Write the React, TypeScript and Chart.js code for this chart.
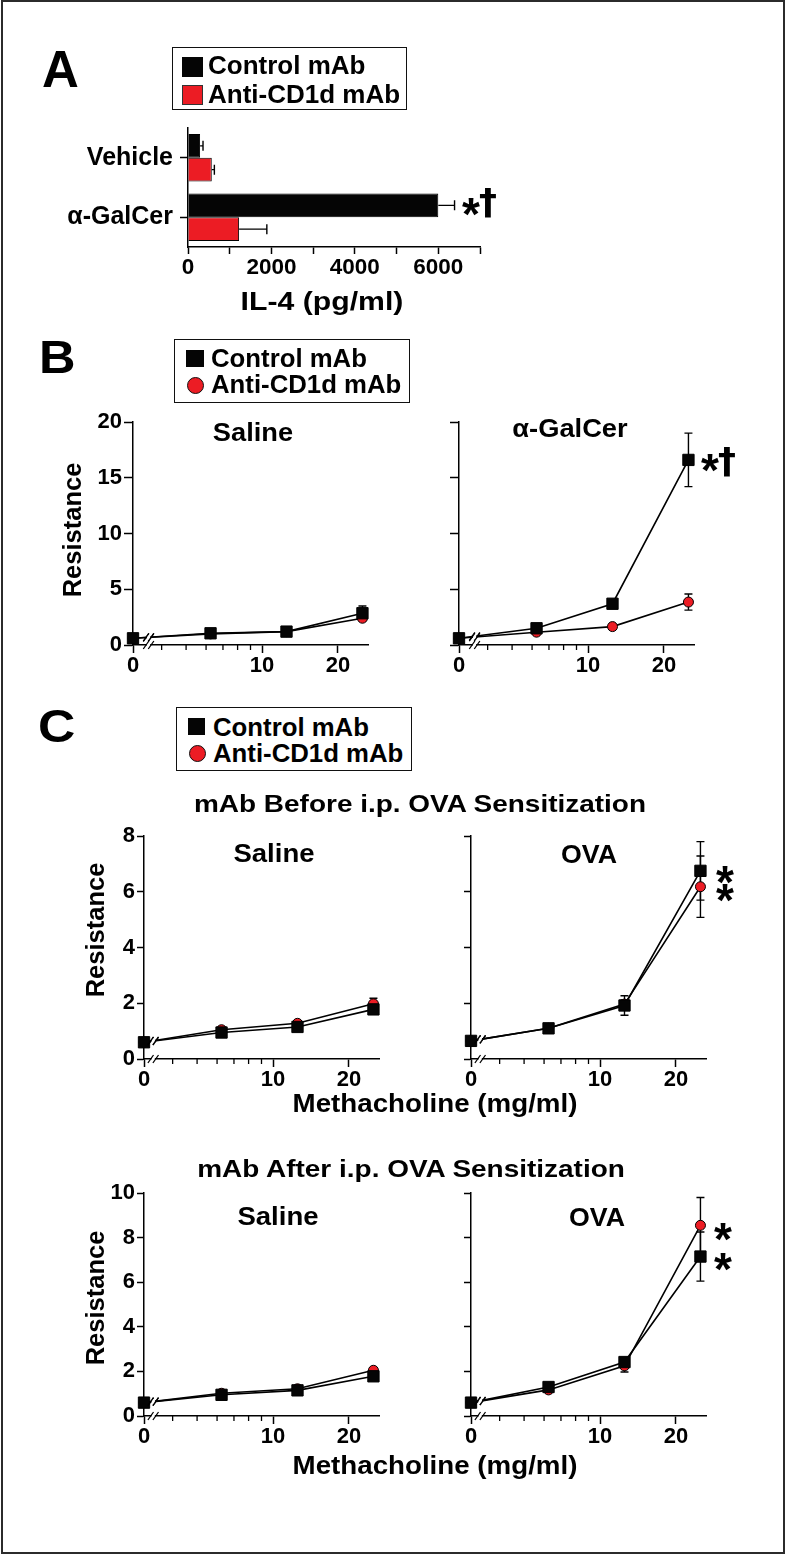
import React, { useEffect, useRef } from 'react';
import { Chart, registerables } from 'chart.js';

Chart.register(...registerables);

const FONT = '"Liberation Sans", Arial, Helvetica, sans-serif';
const SYMBOL_FONT = '"DejaVu Sans", "Liberation Sans", sans-serif';
const INK = '#000000';
const RED = '#ec1c24';

// ---------------- Panel A : IL-4 (pg/ml) ----------------
const A_CATEGORIES = ['Vehicle', 'α-GalCer'];
const A_CONTROL = [290, 6000];
const A_CONTROL_ERR = [70, 390];
const A_ANTI = [570, 1225];
const A_ANTI_ERR = [62, 665];
const A_X_MAX = 7000;
const A_X_STEP = 1000;
const A_X_LABELLED = [0, 2000, 4000, 6000];

// ---------------- Methacholine doses (log axis, zero dose shown at the axis break) ----------------
const DOSES = [0, 6.25, 12.5, 25];
const X_ZERO_AT = 3.08;
const X_MAX = 26.3;
const X_LABELLED = [0, 10, 20];
const X_MINOR = [4, 5, 6, 7, 8, 9];

// ---------------- Panel B ----------------
const B_Y_MAX = 20;
const B_Y_STEP = 5;
const B_SAL_CONTROL = [0.6, 1.05, 1.2, 2.85];
const B_SAL_CONTROL_ERR = [0.1, 0.12, 0.12, 0.65];
const B_SAL_ANTI = [0.6, 1.0, 1.2, 2.4];
const B_SAL_ANTI_ERR = [0.1, 0.1, 0.1, 0.2];
const B_GAL_CONTROL = [0.6, 1.5, 3.7, 16.6];
const B_GAL_CONTROL_ERR = [0.1, 0.2, 0.3, 2.4];
const B_GAL_ANTI = [0.6, 1.15, 1.65, 3.85];
const B_GAL_ANTI_ERR = [0.1, 0.1, 0.15, 0.72];

// ---------------- Panel C : mAb before sensitization ----------------
const CB_Y_MAX = 8;
const CB_Y_STEP = 2;
const CB_SAL_CONTROL = [0.6, 0.95, 1.15, 1.78];
const CB_SAL_CONTROL_ERR = [0.05, 0.08, 0.08, 0.12];
const CB_SAL_ANTI = [0.6, 1.05, 1.28, 1.98];
const CB_SAL_ANTI_ERR = [0.05, 0.08, 0.08, 0.2];
const CB_OVA_CONTROL = [0.65, 1.1, 1.92, 6.75];
const CB_OVA_CONTROL_ERR = [0.08, 0.1, 0.35, 1.05];
const CB_OVA_ANTI = [0.65, 1.1, 1.97, 6.18];
const CB_OVA_ANTI_ERR = [0.08, 0.1, 0.15, 1.1];

// ---------------- Panel C : mAb after sensitization ----------------
const CA_Y_MAX = 10;
const CA_Y_STEP = 2;
const CA_SAL_CONTROL = [0.6, 0.95, 1.15, 1.78];
const CA_SAL_CONTROL_ERR = [0.05, 0.08, 0.08, 0.12];
const CA_SAL_ANTI = [0.6, 1.02, 1.22, 2.05];
const CA_SAL_ANTI_ERR = [0.05, 0.08, 0.08, 0.1];
const CA_OVA_CONTROL = [0.6, 1.3, 2.42, 7.15];
const CA_OVA_CONTROL_ERR = [0.08, 0.1, 0.15, 1.1];
const CA_OVA_ANTI = [0.6, 1.17, 2.25, 8.55];
const CA_OVA_ANTI_ERR = [0.08, 0.1, 0.28, 1.25];

// ---------------- plugins ----------------
const errorBarPlugin = {
  id: 'errorBars',
  beforeDatasetsDraw(chart: any) {
    if (chart.options.indexAxis === 'y') return;
    drawErrors(chart);
  },
  afterDatasetsDraw(chart: any) {
    if (chart.options.indexAxis !== 'y') return;
    drawErrors(chart);
  },
};

function drawErrors(chart: any) {
  const { ctx } = chart;
  const horizontal = chart.options.indexAxis === 'y';
  chart.data.datasets.forEach((ds: any, i: number) => {
    const errs = ds.errors;
    if (!errs) return;
    const meta = chart.getDatasetMeta(i);
    ctx.save();
    ctx.strokeStyle = INK;
    ctx.lineWidth = 1.4;
    meta.data.forEach((el: any, j: number) => {
      const e = errs[j];
      if (!e) return;
      const raw = ds.data[j];
      if (horizontal) {
        const xs = chart.scales.x;
        const v = typeof raw === 'number' ? raw : raw.x;
        const x0 = xs.getPixelForValue(v);
        const x1 = xs.getPixelForValue(v + e);
        const y = el.y;
        ctx.beginPath();
        ctx.moveTo(x0, y);
        ctx.lineTo(x1, y);
        ctx.moveTo(x1, y - 5);
        ctx.lineTo(x1, y + 5);
        ctx.stroke();
      } else {
        const ys = chart.scales.y;
        const v = raw.y;
        const yT = ys.getPixelForValue(v + e);
        const yB = ys.getPixelForValue(Math.max(0, v - e));
        const x = el.x;
        ctx.beginPath();
        ctx.moveTo(x, yT);
        ctx.lineTo(x, yB);
        ctx.moveTo(x - 4, yT);
        ctx.lineTo(x + 4, yT);
        ctx.moveTo(x - 4, yB);
        ctx.lineTo(x + 4, yB);
        ctx.stroke();
      }
    });
    ctx.restore();
  });
}

function makeAxisPlugin(breakAt: number) {
  return {
    id: 'logAxisExtras',
    afterDatasetsDraw(chart: any) {
      const { ctx, chartArea } = chart;
      const xs = chart.scales.x;
      // minor ticks
      ctx.save();
      ctx.strokeStyle = INK;
      ctx.lineWidth = 1.3;
      X_MINOR.forEach((v) => {
        const px = xs.getPixelForValue(v);
        ctx.beginPath();
        ctx.moveTo(px, chartArea.bottom);
        ctx.lineTo(px, chartArea.bottom + 5);
        ctx.stroke();
      });
      ctx.restore();
      // axis break marks
      const bx = xs.getPixelForValue(breakAt);
      const mark = (cy: number) => {
        ctx.save();
        ctx.fillStyle = '#ffffff';
        ctx.fillRect(bx - 1.6, cy - 2.5, 3.2, 5);
        ctx.strokeStyle = INK;
        ctx.lineWidth = 1.3;
        [-2.5, 2.5].forEach((dx) => {
          ctx.beginPath();
          ctx.moveTo(bx + dx - 2.8, cy + 4);
          ctx.lineTo(bx + dx + 2.8, cy - 4);
          ctx.stroke();
        });
        ctx.restore();
      };
      mark(chartArea.bottom);
      chart.data.datasets.forEach((_ds: any, i: number) => {
        const meta = chart.getDatasetMeta(i);
        const p0 = meta.data[0];
        const p1 = meta.data[1];
        if (!p0 || !p1) return;
        const cy = p0.y + ((p1.y - p0.y) * (bx - p0.x)) / (p1.x - p0.x);
        mark(cy);
      });
    },
  };
}

// ---------------- chart configs ----------------
const LM = { L: 60, T: 20, R: 45, B: 40 };

type LineSpec = {
  control: number[];
  controlErr: number[];
  anti: number[];
  antiErr: number[];
  yMax: number;
  yStep: number;
  yLabels: boolean;
  yTick: number;
  xPad: number;
  breakAt: number;
};

function lineConfig(p: LineSpec) {
  const pts = (vals: number[]) => DOSES.map((d, i) => ({ x: d === 0 ? X_ZERO_AT : d, y: vals[i] }));
  const tickFont = { family: FONT, size: 22, weight: 'bold' as const };
  return {
    type: 'line',
    data: {
      datasets: [
        {
          label: 'Control mAb',
          data: pts(p.control),
          errors: p.controlErr,
          borderColor: INK,
          borderWidth: 1.6,
          pointStyle: 'rect',
          pointRadius: 8,
          pointBackgroundColor: '#050505',
          pointBorderColor: INK,
          pointBorderWidth: 1,
          tension: 0,
          clip: false,
        },
        {
          label: 'Anti-CD1d mAb',
          data: pts(p.anti),
          errors: p.antiErr,
          borderColor: INK,
          borderWidth: 1.6,
          pointStyle: 'circle',
          pointRadius: 5,
          pointBackgroundColor: RED,
          pointBorderColor: INK,
          pointBorderWidth: 1,
          tension: 0,
          clip: false,
        },
      ],
    },
    options: {
      animation: false,
      responsive: false,
      devicePixelRatio: 1,
      layout: { padding: { top: LM.T, right: LM.R, left: 0, bottom: 0 } },
      plugins: { legend: { display: false }, tooltip: { enabled: false } },
      scales: {
        x: {
          type: 'logarithmic',
          min: X_ZERO_AT,
          max: X_MAX,
          afterBuildTicks: (s: any) => {
            s.ticks = X_LABELLED.map((v) => ({ value: v === 0 ? X_ZERO_AT : v }));
          },
          afterFit: (s: any) => {
            s.height = LM.B;
          },
          ticks: {
            autoSkip: false,
            maxRotation: 0,
            padding: p.xPad,
            color: INK,
            font: tickFont,
            callback: (_v: any, i: number) => String(X_LABELLED[i]),
          },
          grid: { drawOnChartArea: false, drawTicks: true, tickLength: 8, tickColor: INK, tickWidth: 1.5 },
          border: { display: true, color: INK, width: 1.5 },
        },
        y: {
          type: 'linear',
          min: 0,
          max: p.yMax,
          afterFit: (s: any) => {
            s.width = LM.L;
          },
          ticks: {
            stepSize: p.yStep,
            padding: 2,
            color: INK,
            font: tickFont,
            callback: (v: any) => (p.yLabels ? String(v) : ''),
          },
          grid: { drawOnChartArea: false, drawTicks: true, tickLength: p.yTick, tickColor: INK, tickWidth: 1.5 },
          border: { display: true, color: INK, width: 1.5 },
        },
      },
    },
    plugins: [errorBarPlugin, makeAxisPlugin(p.breakAt)],
  };
}

const AM = { L: 160, T: 20, R: 40, B: 40 };

function barConfig() {
  return {
    type: 'bar',
    data: {
      labels: A_CATEGORIES,
      datasets: [
        {
          label: 'Control mAb',
          data: A_CONTROL,
          errors: A_CONTROL_ERR,
          backgroundColor: '#050505',
          borderColor: INK,
          borderWidth: 1,
          barPercentage: 1,
          categoryPercentage: 0.8,
        },
        {
          label: 'Anti-CD1d mAb',
          data: A_ANTI,
          errors: A_ANTI_ERR,
          backgroundColor: RED,
          borderColor: INK,
          borderWidth: 1,
          barPercentage: 1,
          categoryPercentage: 0.8,
        },
      ],
    },
    options: {
      indexAxis: 'y',
      animation: false,
      responsive: false,
      devicePixelRatio: 1,
      layout: { padding: { top: AM.T, right: AM.R, left: 0, bottom: 0 } },
      plugins: { legend: { display: false }, tooltip: { enabled: false } },
      scales: {
        x: {
          type: 'linear',
          min: 0,
          max: A_X_MAX,
          afterFit: (s: any) => {
            s.height = AM.B;
          },
          ticks: {
            stepSize: A_X_STEP,
            autoSkip: false,
            maxRotation: 0,
            padding: 0,
            color: INK,
            font: { family: FONT, size: 22.5, weight: 'bold' },
            callback: (v: any) => (A_X_LABELLED.includes(Number(v)) ? String(v) : ''),
          },
          grid: { drawOnChartArea: false, tickLength: 7, tickColor: INK, tickWidth: 1.5 },
          border: { display: true, color: INK, width: 1.5 },
        },
        y: {
          type: 'category',
          afterFit: (s: any) => {
            s.width = AM.L;
          },
          ticks: {
            padding: 7,
            color: INK,
            font: { family: FONT, size: 25, weight: 'bold' },
          },
          grid: { offset: false, drawOnChartArea: false, tickLength: 8, tickColor: INK, tickWidth: 1.5 },
          border: { display: true, color: INK, width: 1.5 },
        },
      },
    },
    plugins: [errorBarPlugin],
  };
}

// ---------------- components ----------------
function ChartCanvas({ left, top, width, height, make }: any) {
  const ref = useRef<HTMLCanvasElement | null>(null);
  useEffect(() => {
    const chart = new Chart(ref.current as HTMLCanvasElement, make() as any);
    return () => chart.destroy();
  }, []);
  return (
    <canvas
      ref={ref}
      width={width}
      height={height}
      style={{ position: 'absolute', left, top, width, height }}
    />
  );
}

function LinePanel({ plot, spec }: any) {
  return (
    <ChartCanvas
      left={plot.x - LM.L}
      top={plot.y - LM.T}
      width={plot.w + LM.L + LM.R}
      height={plot.h + LM.T + LM.B}
      make={() => lineConfig(spec)}
    />
  );
}

function Txt({ x, y, size, anchor = 'left', sx = 1, family = FONT, children }: any) {
  const tx = anchor === 'center' ? 'translateX(-50%) ' : anchor === 'right' ? 'translateX(-100%) ' : '';
  const origin = anchor === 'center' ? '50% 0' : anchor === 'right' ? '100% 0' : '0 0';
  return (
    <div
      style={{
        position: 'absolute',
        left: x,
        top: y - 0.8465 * size,
        fontFamily: family,
        fontWeight: 700,
        fontSize: size,
        lineHeight: `${size}px`,
        whiteSpace: 'nowrap',
        color: INK,
        transform: `${tx}scaleX(${sx})`,
        transformOrigin: origin,
      }}
    >
      {children}
    </div>
  );
}

function VTxt({ cx, cy, size, children }: any) {
  return (
    <div
      style={{
        position: 'absolute',
        left: cx,
        top: cy,
        fontFamily: FONT,
        fontWeight: 700,
        fontSize: size,
        lineHeight: `${size}px`,
        whiteSpace: 'nowrap',
        color: INK,
        transform: 'translate(-50%, -50%) rotate(-90deg)',
      }}
    >
      {children}
    </div>
  );
}

function Box({ left, top, width, height, style }: any) {
  return <div style={{ position: 'absolute', left, top, width, height, boxSizing: 'border-box', ...style }} />;
}

function Star({ x, top, size = 46 }: any) {
  return <Txt x={x - 1} y={top + 0.72 * size} size={size}>*</Txt>;
}

function Dagger({ x, top, size = 36 }: any) {
  return <Txt x={x - 4} y={top + 0.74 * size} size={size} family={SYMBOL_FONT}>†</Txt>;
}

const PLOT_W = 235;
const PLOT_H = 223;

export default function App() {
  return (
    <div
      style={{
        position: 'absolute',
        left: 0,
        top: 0,
        width: 788,
        height: 1555,
        background: '#ffffff',
        overflow: 'hidden',
      }}
    >
      <Box left={1} top={0} width={784} height={1554} style={{ border: '2px solid #2b2b2b' }} />

      {/* ---------- charts ---------- */}
      <ChartCanvas
        left={188 - AM.L}
        top={126 - AM.T}
        width={292 + AM.L + AM.R}
        height={121 + AM.T + AM.B}
        make={barConfig}
      />
      <LinePanel
        plot={{ x: 133, y: 422, w: PLOT_W, h: PLOT_H }}
        spec={{ control: B_SAL_CONTROL, controlErr: B_SAL_CONTROL_ERR, anti: B_SAL_ANTI, antiErr: B_SAL_ANTI_ERR, yMax: B_Y_MAX, yStep: B_Y_STEP, yLabels: true, yTick: 9, xPad: 0, breakAt: 3.55 }}
      />
      <LinePanel
        plot={{ x: 459, y: 422, w: PLOT_W, h: PLOT_H }}
        spec={{ control: B_GAL_CONTROL, controlErr: B_GAL_CONTROL_ERR, anti: B_GAL_ANTI, antiErr: B_GAL_ANTI_ERR, yMax: B_Y_MAX, yStep: B_Y_STEP, yLabels: false, yTick: 9, xPad: 0, breakAt: 3.55 }}
      />
      <LinePanel
        plot={{ x: 144, y: 836, w: PLOT_W, h: PLOT_H }}
        spec={{ control: CB_SAL_CONTROL, controlErr: CB_SAL_CONTROL_ERR, anti: CB_SAL_ANTI, antiErr: CB_SAL_ANTI_ERR, yMax: CB_Y_MAX, yStep: CB_Y_STEP, yLabels: true, yTick: 7, xPad: 0, breakAt: 3.35 }}
      />
      <LinePanel
        plot={{ x: 471, y: 836, w: PLOT_W, h: PLOT_H }}
        spec={{ control: CB_OVA_CONTROL, controlErr: CB_OVA_CONTROL_ERR, anti: CB_OVA_ANTI, antiErr: CB_OVA_ANTI_ERR, yMax: CB_Y_MAX, yStep: CB_Y_STEP, yLabels: false, yTick: 7, xPad: 0, breakAt: 3.35 }}
      />
      <LinePanel
        plot={{ x: 144, y: 1193, w: PLOT_W, h: PLOT_H }}
        spec={{ control: CA_SAL_CONTROL, controlErr: CA_SAL_CONTROL_ERR, anti: CA_SAL_ANTI, antiErr: CA_SAL_ANTI_ERR, yMax: CA_Y_MAX, yStep: CA_Y_STEP, yLabels: true, yTick: 7, xPad: 0, breakAt: 3.35 }}
      />
      <LinePanel
        plot={{ x: 471, y: 1193, w: PLOT_W, h: PLOT_H }}
        spec={{ control: CA_OVA_CONTROL, controlErr: CA_OVA_CONTROL_ERR, anti: CA_OVA_ANTI, antiErr: CA_OVA_ANTI_ERR, yMax: CA_Y_MAX, yStep: CA_Y_STEP, yLabels: false, yTick: 7, xPad: 0, breakAt: 3.35 }}
      />

      {/* ---------- panel A text ---------- */}
      <Txt x={42} y={87} size={51}>A</Txt>
      <Box left={172} top={47} width={235} height={63} style={{ border: '1.5px solid #111' }} />
      <Box left={182} top={57} width={21} height={20} style={{ background: '#050505' }} />
      <Box left={182} top={85} width={21} height={20} style={{ background: RED, border: '1px solid #333' }} />
      <Txt x={208} y={75} size={25.5} sx={1.02}>Control mAb</Txt>
      <Txt x={208} y={104} size={25.5} sx={1.02}>Anti-CD1d mAb</Txt>
      <Txt x={321.5} y={310} size={26.5} anchor="center" sx={1.14}>IL-4 (pg/ml)</Txt>
      <Star x={463} top={197} />
      <Dagger x={483} top={188} />

      {/* ---------- panel B text ---------- */}
      <Txt x={38.6} y={373} size={46} sx={1.1}>B</Txt>
      <Box left={174} top={339} width={236} height={64} style={{ border: '1.5px solid #111' }} />
      <Box left={186} top={350} width={18} height={17} style={{ background: '#050505' }} />
      <Box left={186.5} top={376.5} width={17} height={17} style={{ background: RED, border: '1.5px solid #111', borderRadius: '50%' }} />
      <Txt x={211} y={367} size={25} sx={1.03}>Control mAb</Txt>
      <Txt x={211} y={393} size={25} sx={1.03}>Anti-CD1d mAb</Txt>
      <Txt x={253} y={441} size={25} anchor="center" sx={1.09}>Saline</Txt>
      <Txt x={569.5} y={438} size={25.5} anchor="center" sx={1.07}>α-GalCer</Txt>
      <VTxt cx={73} cy={530} size={25.5}>Resistance</VTxt>
      <Star x={702} top={453} />
      <Dagger x={722} top={447} />

      {/* ---------- panel C text ---------- */}
      <Txt x={38} y={742} size={47} sx={1.1}>C</Txt>
      <Box left={176} top={707} width={236} height={64} style={{ border: '1.5px solid #111' }} />
      <Box left={188} top={718} width={17} height={17} style={{ background: '#050505' }} />
      <Box left={188.5} top={744.5} width={17} height={17} style={{ background: RED, border: '1.5px solid #111', borderRadius: '50%' }} />
      <Txt x={213} y={736} size={25} sx={1.03}>Control mAb</Txt>
      <Txt x={213} y={762} size={25} sx={1.03}>Anti-CD1d mAb</Txt>

      <Txt x={419.5} y={812} size={24} anchor="center" sx={1.165}>mAb Before i.p. OVA Sensitization</Txt>
      <Txt x={273.5} y={863} size={25.5} anchor="center" sx={1.08}>Saline</Txt>
      <Txt x={589} y={863} size={25} anchor="center" sx={1.07}>OVA</Txt>
      <VTxt cx={96} cy={930} size={25.5}>Resistance</VTxt>
      <Txt x={434.5} y={1113} size={25.5} anchor="center" sx={1.087}>Methacholine (mg/ml)</Txt>
      <Star x={717} top={865} />
      <Star x={717} top={883} />

      <Txt x={411} y={1177} size={24} anchor="center" sx={1.165}>mAb After i.p. OVA Sensitization</Txt>
      <Txt x={278} y={1226} size={25.5} anchor="center" sx={1.08}>Saline</Txt>
      <Txt x={597} y={1226} size={25} anchor="center" sx={1.07}>OVA</Txt>
      <VTxt cx={96} cy={1298} size={25.5}>Resistance</VTxt>
      <Txt x={434.5} y={1475} size={25.5} anchor="center" sx={1.087}>Methacholine (mg/ml)</Txt>
      <Star x={715} top={1222} />
      <Star x={715} top={1252} />
    </div>
  );
}
